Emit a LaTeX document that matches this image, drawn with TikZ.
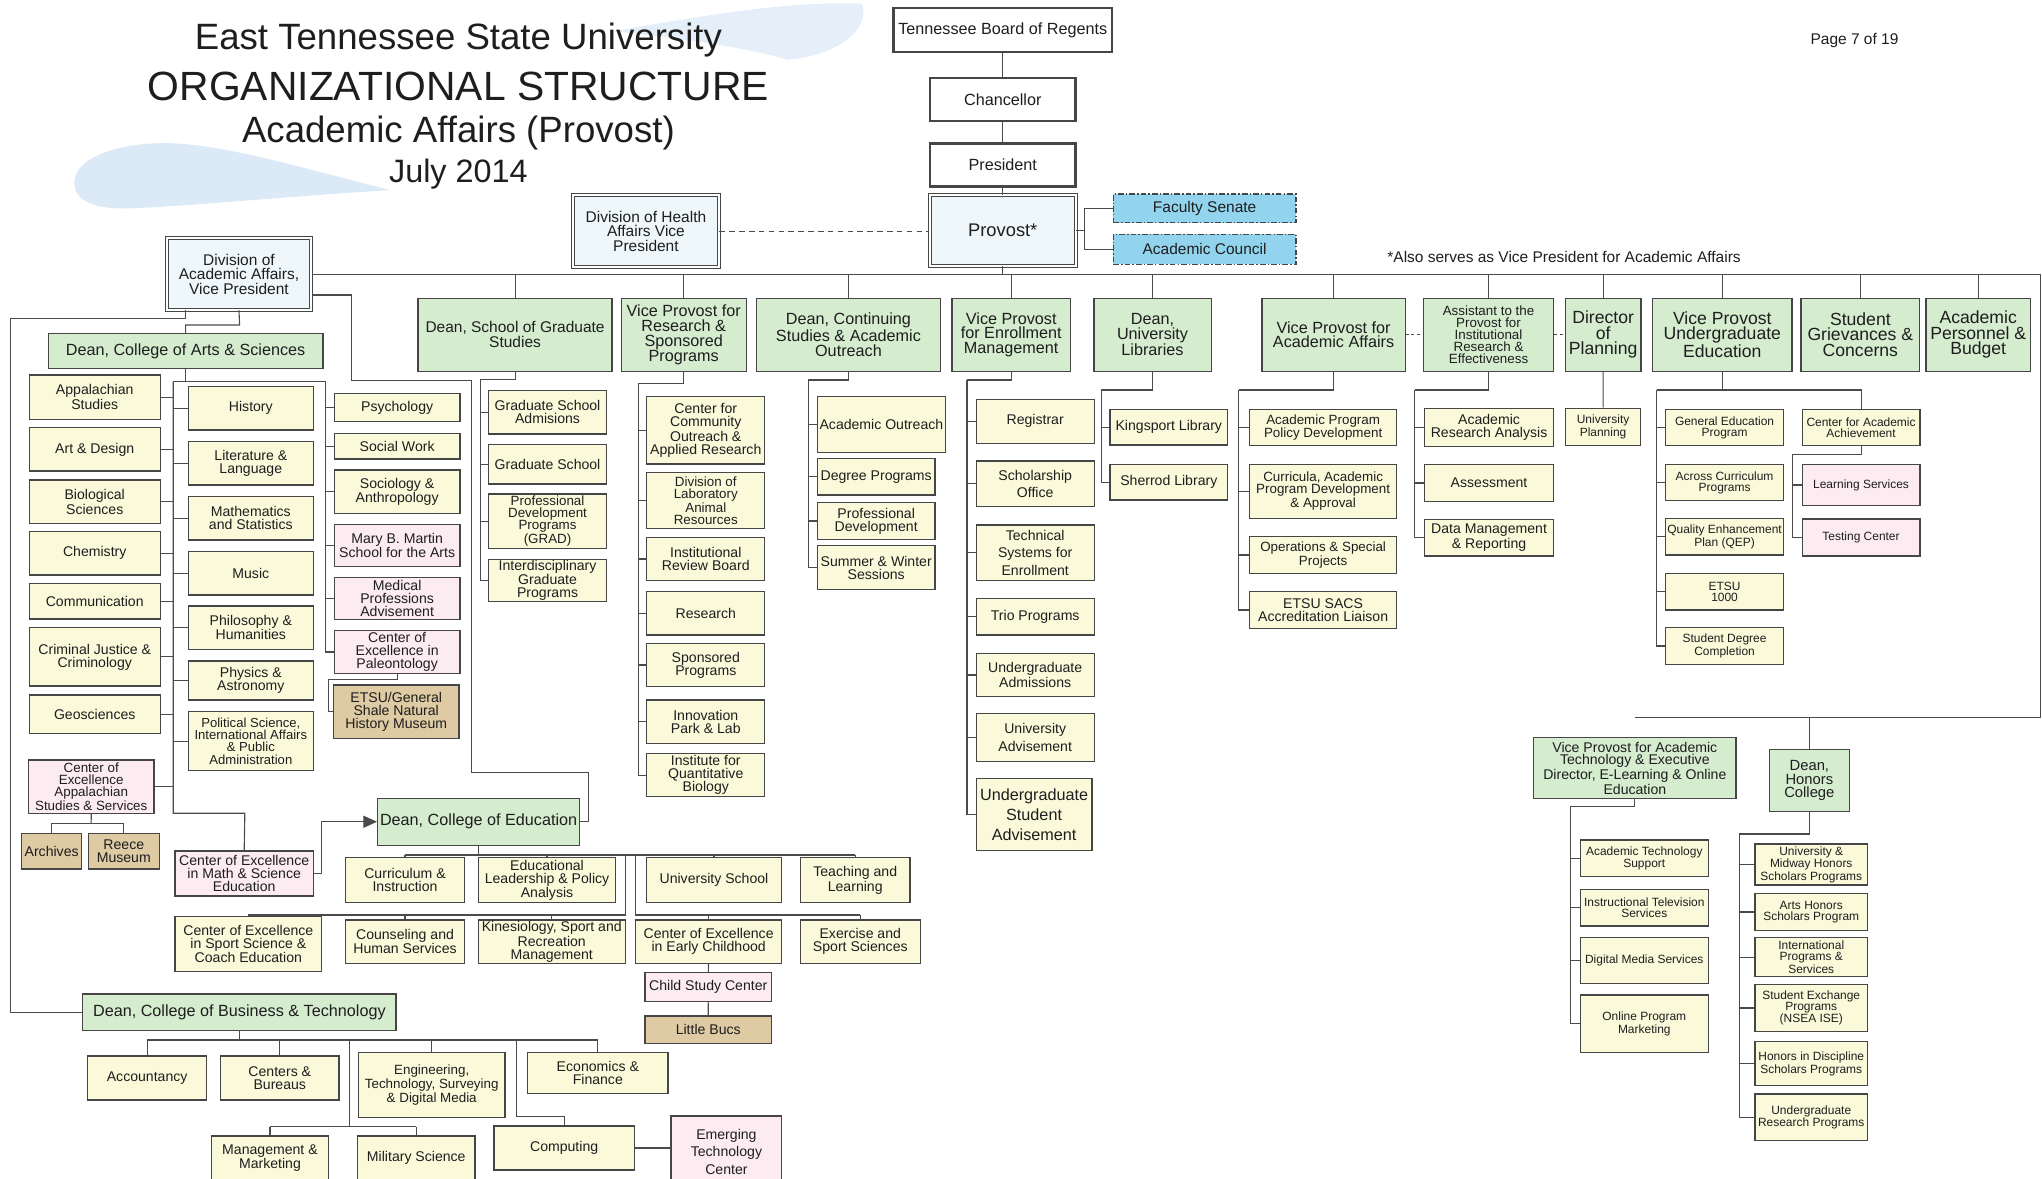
\documentclass[tikz,border=0pt]{standalone}
\usepackage{fontspec}
\setmainfont{Liberation Sans}
\usepackage{tikz}
\usetikzlibrary{arrows.meta}

\definecolor{boxline}{RGB}{70,70,70}
\definecolor{connc}{RGB}{75,75,75}
\definecolor{hdrgreen}{RGB}{213,236,207}
\definecolor{deptcream}{RGB}{250,250,219}
\definecolor{pinkfill}{RGB}{252,236,241}
\definecolor{tanfill}{RGB}{222,202,163}
\definecolor{divfill}{RGB}{238,248,250}
\definecolor{senblue}{RGB}{146,212,237}
\definecolor{textc}{RGB}{30,30,30}
\definecolor{swoosh}{RGB}{196,220,243}

\newlength{\px}
\setlength{\px}{0.0325cm}

\tikzset{
  box/.style={draw=boxline, line width=0.9pt, align=center, inner sep=0.6pt, text=textc, font=\fontsize{10}{9.2}\selectfont},
  hdr/.style={box, fill=hdrgreen, font=\fontsize{11.5}{10.5}\selectfont},
  dept/.style={box, fill=deptcream},
  pinkd/.style={box, fill=pinkfill},
  tand/.style={box, fill=tanfill},
  divbox/.style={box, fill=divfill, line width=0.7pt, double=white, double distance=1.4pt, font=\fontsize{11}{10.3}\selectfont},
  topbox/.style={box, fill=white, line width=1.8pt, font=\fontsize{11.5}{12}\selectfont},
  senate/.style={box, fill=senblue, line width=1.1pt, dash pattern=on 4pt off 1.5pt on 1pt off 1.5pt, font=\fontsize{11}{12}\selectfont},
  big/.style={font=\fontsize{12.5}{11}\selectfont},
  sm/.style={font=\fontsize{8.5}{7.9}\selectfont},
  tight/.style={font=\fontsize{9.5}{8.6}\selectfont},
  loose/.style={font=\fontsize{10}{12.2}\selectfont},
  conn/.style={draw=connc, line width=0.8pt},
}

% box from corner (x1,y1) to corner (x2,y2)
\newcommand{\ob}[7]{\node[#1, minimum width={(#5-#3)*\px}, minimum height={(#6-#4)*\px}] (#2) at ({(#3+#5)/2},{(#4+#6)/2}) {#7};}

\begin{document}
\begin{tikzpicture}[x=0.0325cm, y=-0.0325cm]
\useasboundingbox (0,0) rectangle (1568,905);

% swoosh behind the title
\fill[swoosh, opacity=0.6] (58,146) .. controls (52,128) and (75,112) .. (120,110) .. controls (165,108) and (235,130) .. (300,146) .. controls (230,150) and (150,158) .. (100,160) .. controls (75,161) and (61,155) .. (58,146) -- cycle;
\fill[swoosh, opacity=0.45] (470,24) .. controls (540,12) and (610,0) .. (662,3) .. controls (668,22) and (645,42) .. (605,46) .. controls (580,38) and (530,30) .. (470,24) -- cycle;

\node[font=\fontsize{26}{28}\selectfont, text=textc] (ttla) at (352,31) {East Tennessee State University};
\node[font=\fontsize{29}{30}\selectfont, text=textc] (ttlb) at (352,66) {ORGANIZATIONAL STRUCTURE};
\node[font=\fontsize{26}{28}\selectfont, text=textc] (ttlc) at (352,102) {Academic Affairs (Provost)};
\node[font=\fontsize{23}{24}\selectfont, text=textc] (ttld) at (352,134) {July 2014};
\node[font=\fontsize{11}{12}\selectfont, text=textc] (pg) at (1424,31) {Page 7 of 19};
\node[font=\fontsize{11}{12}\selectfont, text=textc] (note) at (1201,197) {*Also serves as Vice President for Academic Affairs};

% top of the chart
\ob{topbox}{tbr}{686}{6}{854}{40}{Tennessee Board of Regents}
\ob{topbox}{chanc}{714}{60}{826}{93}{Chancellor}
\ob{topbox}{pres}{714}{110}{826}{143}{President}
\ob{divbox, font=\fontsize{13}{14}\selectfont}{provost}{714}{150}{826}{204}{Provost*}
\ob{senate}{fsen}{855}{149}{995}{171}{Faculty Senate}
\ob{senate}{acc}{855}{180}{995}{203}{Academic Council}
\ob{divbox}{health}{440}{150}{552}{205}{Division of Health\\Affairs Vice\\President}
\ob{divbox}{divaa}{128}{183}{239}{238}{Division of\\Academic Affairs,\\Vice President}

% second row
\ob{hdr, font=\fontsize{11}{10.5}\selectfont}{gradst}{321}{229}{470}{285}{Dean, School of Graduate\\Studies}
\ob{hdr}{resvp}{477}{229}{573}{285}{Vice Provost for\\Research \&\\Sponsored\\Programs}
\ob{hdr}{cont}{581}{229}{722}{285}{Dean, Continuing\\Studies \& Academic\\Outreach}
\ob{hdr}{enrl}{731}{229}{822}{285}{Vice Provost\\for Enrollment\\Management}
\ob{hdr}{libs}{840}{229}{930}{285}{Dean,\\University\\Libraries}
\ob{hdr}{vpaa}{969}{229}{1079}{285}{Vice Provost for\\Academic Affairs}
\ob{hdr, font=\fontsize{9.5}{8.4}\selectfont}{asst}{1093}{229}{1193}{285}{Assistant to the\\Provost for\\Institutional\\Research \&\\Effectiveness}
\ob{hdr, big}{dirp}{1202}{229}{1260}{285}{Director\\of\\Planning}
\ob{hdr, big}{vpue}{1269}{229}{1376}{285}{Vice Provost\\Undergraduate\\Education}
\ob{hdr, big}{griev}{1383}{229}{1474}{285}{Student\\Grievances \&\\Concerns}
\ob{hdr, big}{pers}{1479}{229}{1559}{285}{Academic\\Personnel \&\\Budget}

% arts and sciences
\ob{hdr}{deanas}{37}{256}{248}{283}{Dean, College of Arts \& Sciences}
\ob{dept}{appst}{22.5}{288}{123}{322}{Appalachian\\Studies}
\ob{dept}{artd}{22.5}{328.4}{123}{361.7}{Art \& Design}
\ob{dept}{bios}{22.5}{368.6}{123}{401.9}{Biological\\Sciences}
\ob{dept}{chem}{22.5}{408.3}{123}{441.5}{Chemistry}
\ob{dept}{comm}{22.5}{448}{123}{475.3}{Communication}
\ob{dept}{crim}{22.5}{482}{123}{526.8}{Criminal Justice \&\\Criminology}
\ob{dept}{geos}{22.5}{533.7}{123}{563}{Geosciences}
\ob{pinkd, tight}{ceapp}{21.8}{583.6}{118.3}{624.5}{Center of\\Excellence\\Appalachian\\Studies \& Services}
\ob{tand}{archives}{16.6}{640}{62.7}{667.3}{Archives}
\ob{tand}{reece}{67.8}{640}{122.3}{667.3}{Reece\\Museum}
\ob{dept}{hist}{144.6}{296.9}{240.6}{330.2}{History}
\ob{dept}{litl}{144.6}{339.1}{240.6}{372.4}{Literature \&\\Language}
\ob{dept}{math}{144.6}{381.4}{240.6}{414.7}{Mathematics\\and Statistics}
\ob{dept}{music}{144.6}{423.6}{240.6}{456.9}{Music}
\ob{dept}{phil}{144.6}{465.3}{240.6}{498.6}{Philosophy \&\\Humanities}
\ob{dept}{phys}{144.6}{507.6}{240.6}{537.5}{Physics \&\\Astronomy}
\ob{dept, font=\fontsize{9.3}{8.6}\selectfont}{polsci}{144.6}{546.5}{240.6}{591.8}{Political Science,\\International Affairs\\\& Public\\Administration}
\ob{dept}{psych}{256.7}{302}{353.2}{323.8}{Psychology}
\ob{dept}{socw}{256.7}{332.7}{353.2}{352.5}{Social Work}
\ob{dept}{socio}{256.7}{360.9}{353.2}{394.2}{Sociology \&\\Anthropology}
\ob{pinkd}{mbm}{256.7}{402.6}{353.2}{435.1}{Mary B. Martin\\School for the Arts}
\ob{pinkd}{medp}{256.7}{443.3}{353.2}{475.5}{Medical\\Professions\\Advisement}
\ob{pinkd}{cepal}{256.7}{484.3}{353.2}{517}{Center of\\Excellence in\\Paleontology}
\ob{tand}{museum}{256}{526}{352.5}{567}{ETSU/General\\Shale Natural\\History Museum}
\ob{pinkd}{cemath}{134.4}{653.5}{240.6}{688}{Center of Excellence\\in Math \& Science\\Education}

% education
\ob{hdr}{deaned}{290}{613}{445}{649}{Dean, College of Education}
\ob{dept}{curr}{265.5}{658.6}{356.5}{693.1}{Curriculum \&\\Instruction}
\ob{dept}{edlead}{367.2}{658.6}{472.9}{693.1}{Educational\\Leadership \& Policy\\Analysis}
\ob{dept}{unisch}{496.2}{658.6}{600.3}{693.1}{University School}
\ob{dept}{teach}{614.6}{658.6}{698.8}{693.1}{Teaching and\\Learning}
\ob{dept}{cesport}{134.4}{703.9}{247}{746.1}{Center of Excellence\\in Sport Science \&\\Coach Education}
\ob{dept}{couns}{265.5}{706.4}{356.5}{739.7}{Counseling and\\Human Services}
\ob{dept}{kines}{367.2}{706.4}{480.2}{739.7}{Kinesiology, Sport and\\Recreation\\Management}
\ob{dept}{ceearly}{488}{706.4}{600.3}{739.7}{Center of Excellence\\in Early Childhood}
\ob{dept}{exer}{614.6}{706.4}{706.6}{739.7}{Exercise and\\Sport Sciences}
\ob{pinkd}{childst}{495.3}{746.9}{592.4}{769.2}{Child Study Center}
\ob{tand}{bucs}{495.3}{780.2}{592.4}{801.1}{Little Bucs}

% business
\ob{hdr}{deanbus}{63.5}{763.3}{304.1}{791.4}{Dean, College of Business \& Technology}
\ob{dept}{acct}{67.3}{810.9}{158.7}{844.7}{Accountancy}
\ob{dept}{cntrs}{169.4}{810.9}{260.3}{844.7}{Centers \&\\Bureaus}
\ob{dept, tight}{engr}{275.2}{808.3}{387.8}{858.2}{Engineering,\\Technology, Surveying\\\& Digital Media}
\ob{dept}{econ}{405.1}{808.3}{513}{839.5}{Economics \&\\Finance}
\ob{dept}{mgmt}{162.5}{872.3}{252.1}{906}{Management \&\\Marketing}
\ob{dept}{milsci}{274.6}{872.3}{364.7}{906}{Military Science}
\ob{dept}{comp}{379.3}{864.6}{487.1}{898.4}{Computing}
\ob{pinkd, loose}{emerg}{515.3}{857}{600.3}{912}{Emerging\\Technology\\Center}

% graduate studies, research, continuing studies
\ob{dept}{gsadm}{375}{300}{465.9}{333.3}{Graduate School\\Admisions}
\ob{dept}{gsch}{375}{341.2}{465.9}{371.7}{Graduate School}
\ob{dept, tight}{pdp}{375}{379.3}{465.9}{421}{Professional\\Development\\Programs\\(GRAD)}
\ob{dept}{igp}{375}{429.5}{465.9}{462}{Interdisciplinary\\Graduate\\Programs}
\ob{dept}{ccoar}{496.7}{304.6}{587.2}{356.3}{Center for\\Community\\Outreach \&\\Applied Research}
\ob{dept, tight}{dlar}{496.7}{362.9}{587.2}{405.7}{Division of\\Laboratory\\Animal\\Resources}
\ob{dept}{irb}{496.7}{412.6}{587.2}{445.9}{Institutional\\Review Board}
\ob{dept}{rsch}{496.7}{454.3}{587.2}{487.6}{Research}
\ob{dept}{spons}{496.7}{494}{587.2}{527.3}{Sponsored\\Programs}
\ob{dept}{innov}{496.7}{537.5}{587.2}{570.7}{Innovation\\Park \& Lab}
\ob{dept}{iqb}{496.7}{578.5}{587.2}{611.8}{Institute for\\Quantitative\\Biology}
\ob{dept}{acout}{627.6}{304.6}{726}{347.3}{Academic Outreach}
\ob{dept}{degp}{627.6}{351.9}{718}{380.1}{Degree Programs}
\ob{dept}{profd}{627.6}{386}{718}{414.1}{Professional\\Development}
\ob{dept}{sumw}{627.6}{419}{718}{452.5}{Summer \& Winter\\Sessions}

% enrollment, libraries
\ob{dept}{regis}{749.6}{306.6}{840.2}{340.4}{Registrar}
\ob{dept, loose}{schol}{749.6}{354}{840.2}{389.1}{Scholarship\\Office}
\ob{dept, loose}{techs}{749.6}{403.1}{840.2}{445.9}{Technical\\Systems for\\Enrollment}
\ob{dept}{trio}{749.6}{459.4}{840.2}{487.6}{Trio Programs}
\ob{dept}{ugadm}{749.6}{501.7}{840.2}{535}{Undergraduate\\Admissions}
\ob{dept, loose}{uadv}{749.6}{547.7}{840.2}{584.9}{University\\Advisement}
\ob{dept, font=\fontsize{11.5}{14}\selectfont}{ugsa}{749.6}{598}{838.5}{653}{Undergraduate\\Student\\Advisement}
\ob{dept}{kings}{852.4}{314.3}{942.6}{341.7}{Kingsport Library}
\ob{dept}{sherr}{852.4}{356.5}{942.6}{383.9}{Sherrod Library}

% academic affairs, assistant, planning
\ob{dept, tight}{appd}{959.5}{314.3}{1072.5}{342.2}{Academic Program\\Policy Development}
\ob{dept, tight}{curric}{959.5}{356.5}{1072.5}{398}{Curricula, Academic\\Program Development\\\& Approval}
\ob{dept, tight}{ops}{959.5}{412.1}{1072.5}{440.2}{Operations \& Special\\Projects}
\ob{dept}{sacs}{959.5}{454.3}{1072.5}{482.5}{ETSU SACS\\Accreditation Liaison}
\ob{dept}{ara}{1093.8}{313.5}{1193}{343}{Academic\\Research Analysis}
\ob{dept}{assess}{1093.8}{356.5}{1193}{385.2}{Assessment}
\ob{dept}{datam}{1093.8}{398.8}{1193}{426.9}{Data Management\\\& Reporting}
\ob{dept, sm}{uplan}{1202.3}{313.5}{1259.6}{342.2}{University\\Planning}

% undergraduate education
\ob{dept, sm}{gened}{1278.8}{314.3}{1369.7}{342.2}{General Education\\Program}
\ob{dept, sm}{acurr}{1278.8}{356.5}{1369.7}{384.5}{Across Curriculum\\Programs}
\ob{dept, sm}{qep}{1278.8}{398}{1369.7}{426.2}{Quality Enhancement\\Plan (QEP)}
\ob{dept, sm}{etsuk}{1278.8}{440.2}{1369.7}{468.4}{ETSU\\1000}
\ob{dept, sm}{sdc}{1278.8}{482}{1369.7}{510.1}{Student Degree\\Completion}
\ob{dept, sm}{caa}{1383.8}{314.3}{1474.3}{342.2}{Center for Academic\\Achievement}
\ob{pinkd, sm}{learn}{1383.8}{356.5}{1474.3}{388.3}{Learning Services}
\ob{pinkd, sm}{testc}{1383.8}{398.5}{1474.3}{426.9}{Testing Center}

% technology, honors
\ob{hdr, font=\fontsize{10}{9.2}\selectfont}{vpat}{1177.6}{566.4}{1333.1}{613}{Vice Provost for Academic\\Technology \& Executive\\Director, E-Learning \& Online\\Education}
\ob{hdr, font=\fontsize{10.5}{9.6}\selectfont}{honors}{1358.8}{575.4}{1419.9}{623.3}{Dean,\\Honors\\College}
\ob{dept, sm}{ats}{1213.4}{645}{1311.8}{673.2}{Academic Technology\\Support}
\ob{dept, sm}{itv}{1213.4}{682.9}{1311.8}{711}{Instructional Television\\Services}
\ob{dept, sm}{dms}{1213.4}{719.7}{1311.8}{755.1}{Digital Media Services}
\ob{dept, sm}{opm}{1213.4}{764}{1311.8}{808.3}{Online Program\\Marketing}
\ob{dept, sm}{umh}{1347.7}{648.1}{1433.9}{679.6}{University \&\\Midway Honors\\Scholars Programs}
\ob{dept, sm}{ahs}{1347.7}{686}{1433.9}{714.6}{Arts Honors\\Scholars Program}
\ob{dept, sm}{ips}{1347.7}{720}{1433.9}{750}{International\\Programs \&\\Services}
\ob{dept, sm}{sep}{1347.7}{755.8}{1433.9}{792.2}{Student Exchange\\Programs\\(NSEA ISE)}
\ob{dept, sm}{hids}{1347.7}{799.9}{1433.9}{833.7}{Honors in Discipline\\Scholars Programs}
\ob{dept, sm}{urp}{1347.7}{840}{1433.9}{875.9}{Undergraduate\\Research Programs}

% bus points
\coordinate (busR) at (1567,211);
\coordinate (busRB) at (1567,550.8);
\coordinate (snb) at (833,177);
\coordinate (farL) at (8,244.5);
\coordinate (asj) at (184,249.6);
\coordinate (asL) at (133,293);
\coordinate (asR) at (250,293);
\coordinate (asM) at (188,624.5);
\coordinate (musj) at (252,522);
\coordinate (arj) at (70,632);
\coordinate (arrj) at (247,631);
\coordinate (edA) at (270,292);
\coordinate (edB) at (362,593);
\coordinate (edC) at (452,631);
\coordinate (edbus) at (368,656.5);
\coordinate (edL) at (480.2,702.6);
\coordinate (edR) at (488,702.6);
\coordinate (bbus) at (184,798.6);
\coordinate (bbb) at (268.2,865.1);
\coordinate (bbc) at (396.6,857.5);
\coordinate (gsb) at (368.9,291.3);
\coordinate (rsb) at (490.5,294.3);
\coordinate (csb) at (620.8,291.8);
\coordinate (enb) at (742.5,291.8);
\coordinate (lbb) at (845.7,299.5);
\coordinate (aab) at (951,299.5);
\coordinate (itb) at (1086.2,299.5);
\coordinate (ueb) at (1272.2,299.5);
\coordinate (cab) at (1376.3,348.9);
\coordinate (atb) at (1205.7,619.4);
\coordinate (hnb) at (1335.5,640.4);

% chain and provost
\draw[conn] (tbr) -- (chanc) -- (pres) -- (provost);
\draw[conn] (provost.east) -- (snb);
\draw[conn] (fsen.west) -| (snb) |- (acc.west);
\draw[conn, dashed, dash pattern=on 4pt off 3pt] (health.east) -- (health.east -| provost.west);
\draw[conn] (provost.south) -- (provost.south |- busR);
\draw[conn] (divaa.east) -- (divaa.east -| busR) -- (busRB) -- (busRB -| vpat.north);
\foreach \n in {gradst,resvp,cont,enrl,libs,vpaa,asst,dirp,vpue,griev,pers}
  \draw[conn] (\n.north |- busR) -- (\n.north);
\draw[conn, dash pattern=on 2pt off 2pt] (vpaa.east) -- (asst.west);
\draw[conn, dash pattern=on 2pt off 2pt] (asst.east) -- (dirp.west);

% division of academic affairs
\draw[conn] (divaa.south -| deanas.north) |- (farL) |- (deanbus.west);
\draw[conn] (divaa.south) -- (asj) -| (deanas.north);
\draw[conn] (divaa.-16) -| (edA) -| (edB) -| (edC) -- (deaned.east);

% arts and sciences
\draw[conn] (deanas.south) -- (deanas.south |- asL);
\draw[conn] (asL) -- (asR);
\draw[conn] (asL) |- (asM) -- (cemath.north);
\foreach \n in {appst,artd,bios,chem,comm,crim,geos,ceapp}
  \draw[conn] (\n.east) -- (\n.east -| asL);
\foreach \n in {hist,litl,math,music,phil,phys,polsci}
  \draw[conn] (\n.west) -- (\n.west -| asL);
\foreach \n in {psych,socw,socio,mbm,medp,cepal}
  \draw[conn] (asR) |- (\n.west);
\draw[conn] (cepal.south) |- (musj) |- (museum.west);
\draw[conn] (ceapp.south) -- (arj);
\draw[conn] (archives.north) |- (arj) -| (reece.north);
\draw[conn, -{Triangle[length=3.4mm, width=3mm]}] (cemath.east) -| (arrj) -- (deaned.west);

% education
\draw[conn] (deaned.south) -- (deaned.south |- edbus);
\draw[conn] (curr.north |- edbus) -- (teach.north |- edbus);
\foreach \n in {curr,edlead,unisch,teach}
  \draw[conn] (\n.north |- edbus) -- (\n.north);
\draw[conn] (edL |- edbus) -- (edL) -- (edL -| cesport.north);
\draw[conn] (edR |- edbus) -- (edR) -- (edR -| exer.north);
\foreach \n in {cesport,couns,kines}
  \draw[conn] (\n.north |- edL) -- (\n.north);
\foreach \n in {ceearly,exer}
  \draw[conn] (\n.north |- edR) -- (\n.north);
\draw[conn] (ceearly) -- (childst) -- (bucs);

% business
\draw[conn] (deanbus.south) -- (deanbus.south |- bbus);
\draw[conn] (acct.north |- bbus) -- (econ.north |- bbus);
\foreach \n in {acct,cntrs,engr,econ}
  \draw[conn] (\n.north |- bbus) -- (\n.north);
\draw[conn] (bbb |- bbus) -- (bbb);
\draw[conn] (mgmt.north |- bbb) -- (milsci.north |- bbb);
\foreach \n in {mgmt,milsci}
  \draw[conn] (\n.north |- bbb) -- (\n.north);
\draw[conn] (bbc |- bbus) -- (bbc) -| (comp.north);
\draw[conn] (comp.east) -- (comp.east -| emerg.west);

% second row children
\draw[conn] (gradst.south) |- (gsb);
\foreach \n in {gsadm,gsch,pdp,igp}
  \draw[conn] (gsb) |- (\n.west);
\draw[conn] (resvp.south) |- (rsb);
\foreach \n in {ccoar,dlar,irb,rsch,spons,innov,iqb}
  \draw[conn] (rsb) |- (\n.west);
\draw[conn] (cont.south) |- (csb);
\foreach \n in {acout,degp,profd,sumw}
  \draw[conn] (csb) |- (\n.west);
\draw[conn] (enrl.south) |- (enb);
\foreach \n in {regis,schol,techs,trio,ugadm,uadv,ugsa}
  \draw[conn] (enb) |- (\n.west);
\draw[conn] (libs.south) |- (lbb);
\foreach \n in {kings,sherr}
  \draw[conn] (lbb) |- (\n.west);
\draw[conn] (vpaa.south) |- (aab);
\foreach \n in {appd,curric,ops,sacs}
  \draw[conn] (aab) |- (\n.west);
\draw[conn] (asst.south) |- (itb);
\foreach \n in {ara,assess,datam}
  \draw[conn] (itb) |- (\n.west);
\draw[conn] (dirp) -- (uplan);
\draw[conn] (vpue.south) |- (ueb);
\draw[conn] (vpue.south |- ueb) -| (caa.north);
\foreach \n in {gened,acurr,qep,etsuk,sdc}
  \draw[conn] (ueb) |- (\n.west);
\draw[conn] (caa.south) |- (cab);
\foreach \n in {learn,testc}
  \draw[conn] (cab) |- (\n.west);

% technology and honors
\draw[conn] (honors.north |- busRB) -- (honors.north);
\draw[conn] (vpat.south) |- (atb);
\foreach \n in {ats,itv,dms,opm}
  \draw[conn] (atb) |- (\n.west);
\draw[conn] (honors.south) |- (hnb);
\foreach \n in {umh,ahs,ips,sep,hids,urp}
  \draw[conn] (hnb) |- (\n.west);
\end{tikzpicture}
\end{document}
